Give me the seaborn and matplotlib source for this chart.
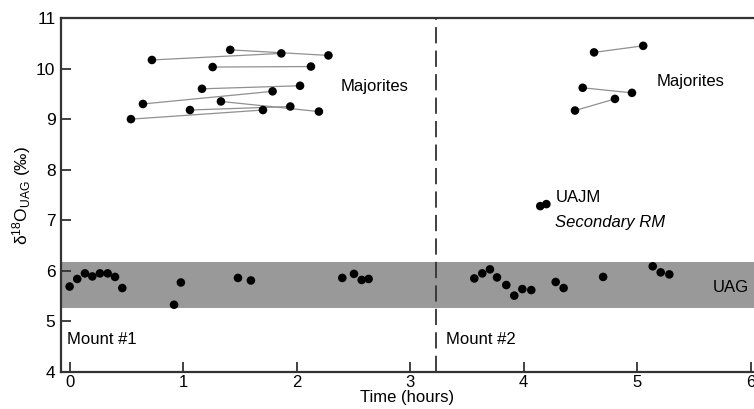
import numpy as np
import pandas as pd
import matplotlib
matplotlib.use("Agg")
import matplotlib.pyplot as plt
import seaborn as sns

# ---- data ----
# Majorite pairs: start/end time and value, one pair per grain
maj_t1 = [0.54, 0.646, 0.725, 1.06, 1.166, 1.26, 1.333, 1.415, 4.452, 4.52, 4.62]
maj_v1 = [9.00, 9.30, 10.17, 9.18, 9.60, 10.03, 9.35, 10.37, 9.17, 9.62, 10.32]
maj_t2 = [1.703, 1.788, 1.865, 1.944, 2.03, 2.126, 2.196, 2.28, 4.804, 4.954, 5.053]
maj_v2 = [9.18, 9.55, 10.30, 9.25, 9.66, 10.04, 9.15, 10.26, 9.40, 9.52, 10.45]

# UAJM secondary RM
uajm_t = [4.146, 4.20]
uajm_v = [7.28, 7.32]

# UAG standard
uag_t = [0.0, 0.067, 0.135, 0.20, 0.267, 0.335, 0.40, 0.464, 0.92, 0.98, 1.483, 1.597,
         2.402, 2.505, 2.573, 2.634,
         3.565, 3.635, 3.703, 3.765, 3.847, 3.917, 3.988, 4.067, 4.282, 4.352, 4.70,
         5.137, 5.207, 5.283]
uag_v = [5.69, 5.84, 5.95, 5.89, 5.95, 5.95, 5.88, 5.66, 5.33, 5.77, 5.86, 5.81,
         5.86, 5.94, 5.82, 5.84,
         5.85, 5.95, 6.03, 5.87, 5.72, 5.51, 5.64, 5.62, 5.78, 5.66, 5.88,
         6.09, 5.97, 5.93]

uag_band = (5.27, 6.17)
mount_break = 3.23
x_ticks = [0, 1, 2, 3, 4, 5, 6]
y_ticks = [4, 5, 6, 7, 8, 9, 10, 11]

# ---- style ----
sns.set_theme(style="white")
plt.rcParams['font.family'] = ['Liberation Sans', 'DejaVu Sans']
plt.rcParams['mathtext.fontset'] = 'custom'
plt.rcParams['mathtext.rm'] = 'Liberation Sans'
plt.rcParams['mathtext.it'] = 'Liberation Sans:italic'
plt.rcParams['text.color'] = 'black'
plt.rcParams['axes.labelcolor'] = 'black'

W, H = 754, 409
fig = plt.figure(figsize=(W / 100, H / 100), dpi=100)
ax = fig.add_axes([61 / W, 37 / H, (W - 61) / W, 354 / H])

# band
ax.axhspan(uag_band[0], uag_band[1], color='#999999', lw=0, zorder=0)

# majorite pair lines
pair_rows = []
for i, (a, b, c, d) in enumerate(zip(maj_t1, maj_v1, maj_t2, maj_v2)):
    pair_rows.append({'t': a, 'v': b, 'pair': i})
    pair_rows.append({'t': c, 'v': d, 'pair': i})
pairs = pd.DataFrame(pair_rows)
sns.lineplot(data=pairs, x='t', y='v', units='pair', estimator=None, sort=False,
             color='#909090', lw=0.9, ax=ax, zorder=2)

pts = pd.DataFrame({'t': list(pairs['t']) + uajm_t + uag_t,
                    'v': list(pairs['v']) + uajm_v + uag_v})
sns.scatterplot(data=pts, x='t', y='v', color='black', s=38, edgecolor='none',
                ax=ax, zorder=3)

ax.axvline(mount_break, color='#333333', lw=1.3, dashes=(9, 4), zorder=1)

ax.set_xlim(-0.076, 6.029)
ax.set_ylim(4, 11)
ax.set_xticks(x_ticks)
ax.set_yticks(y_ticks)
ax.tick_params(axis='both', direction='in', length=7, width=1.3, color='#333333',
               labelsize=12.5, labelcolor='black', pad=4,
               bottom=True, left=True, top=False, right=False)
ax.tick_params(axis='x', pad=2, labelsize=12)
for s in ['left', 'bottom', 'top']:
    ax.spines[s].set_color('#333333')
    ax.spines[s].set_linewidth(1.6)
ax.spines['right'].set_visible(False)

ax.set_xlabel('Time (hours)', fontsize=12, labelpad=0, color='black')
ax.set_ylabel('δ$^{18}$O$_{\\mathrm{UAG}}$ (‰)', fontsize=12.5, labelpad=2, color='black')

fs = 12
ax.text(2.39, 9.65, 'Majorites', fontsize=fs, va='center', ha='left')
ax.text(5.17, 9.75, 'Majorites', fontsize=fs, va='center', ha='left')
ax.text(4.28, 7.45, 'UAJM', fontsize=fs, va='center', ha='left')
ax.text(4.28, 6.95, 'Secondary RM', fontsize=fs, va='center', ha='left', style='italic')
ax.text(5.67, 5.68, 'UAG', fontsize=fs, va='center', ha='left')
ax.text(-0.02, 4.65, 'Mount #1', fontsize=fs, va='center', ha='left')
ax.text(3.32, 4.65, 'Mount #2', fontsize=fs, va='center', ha='left')

fig.savefig('out.png', dpi=100)
